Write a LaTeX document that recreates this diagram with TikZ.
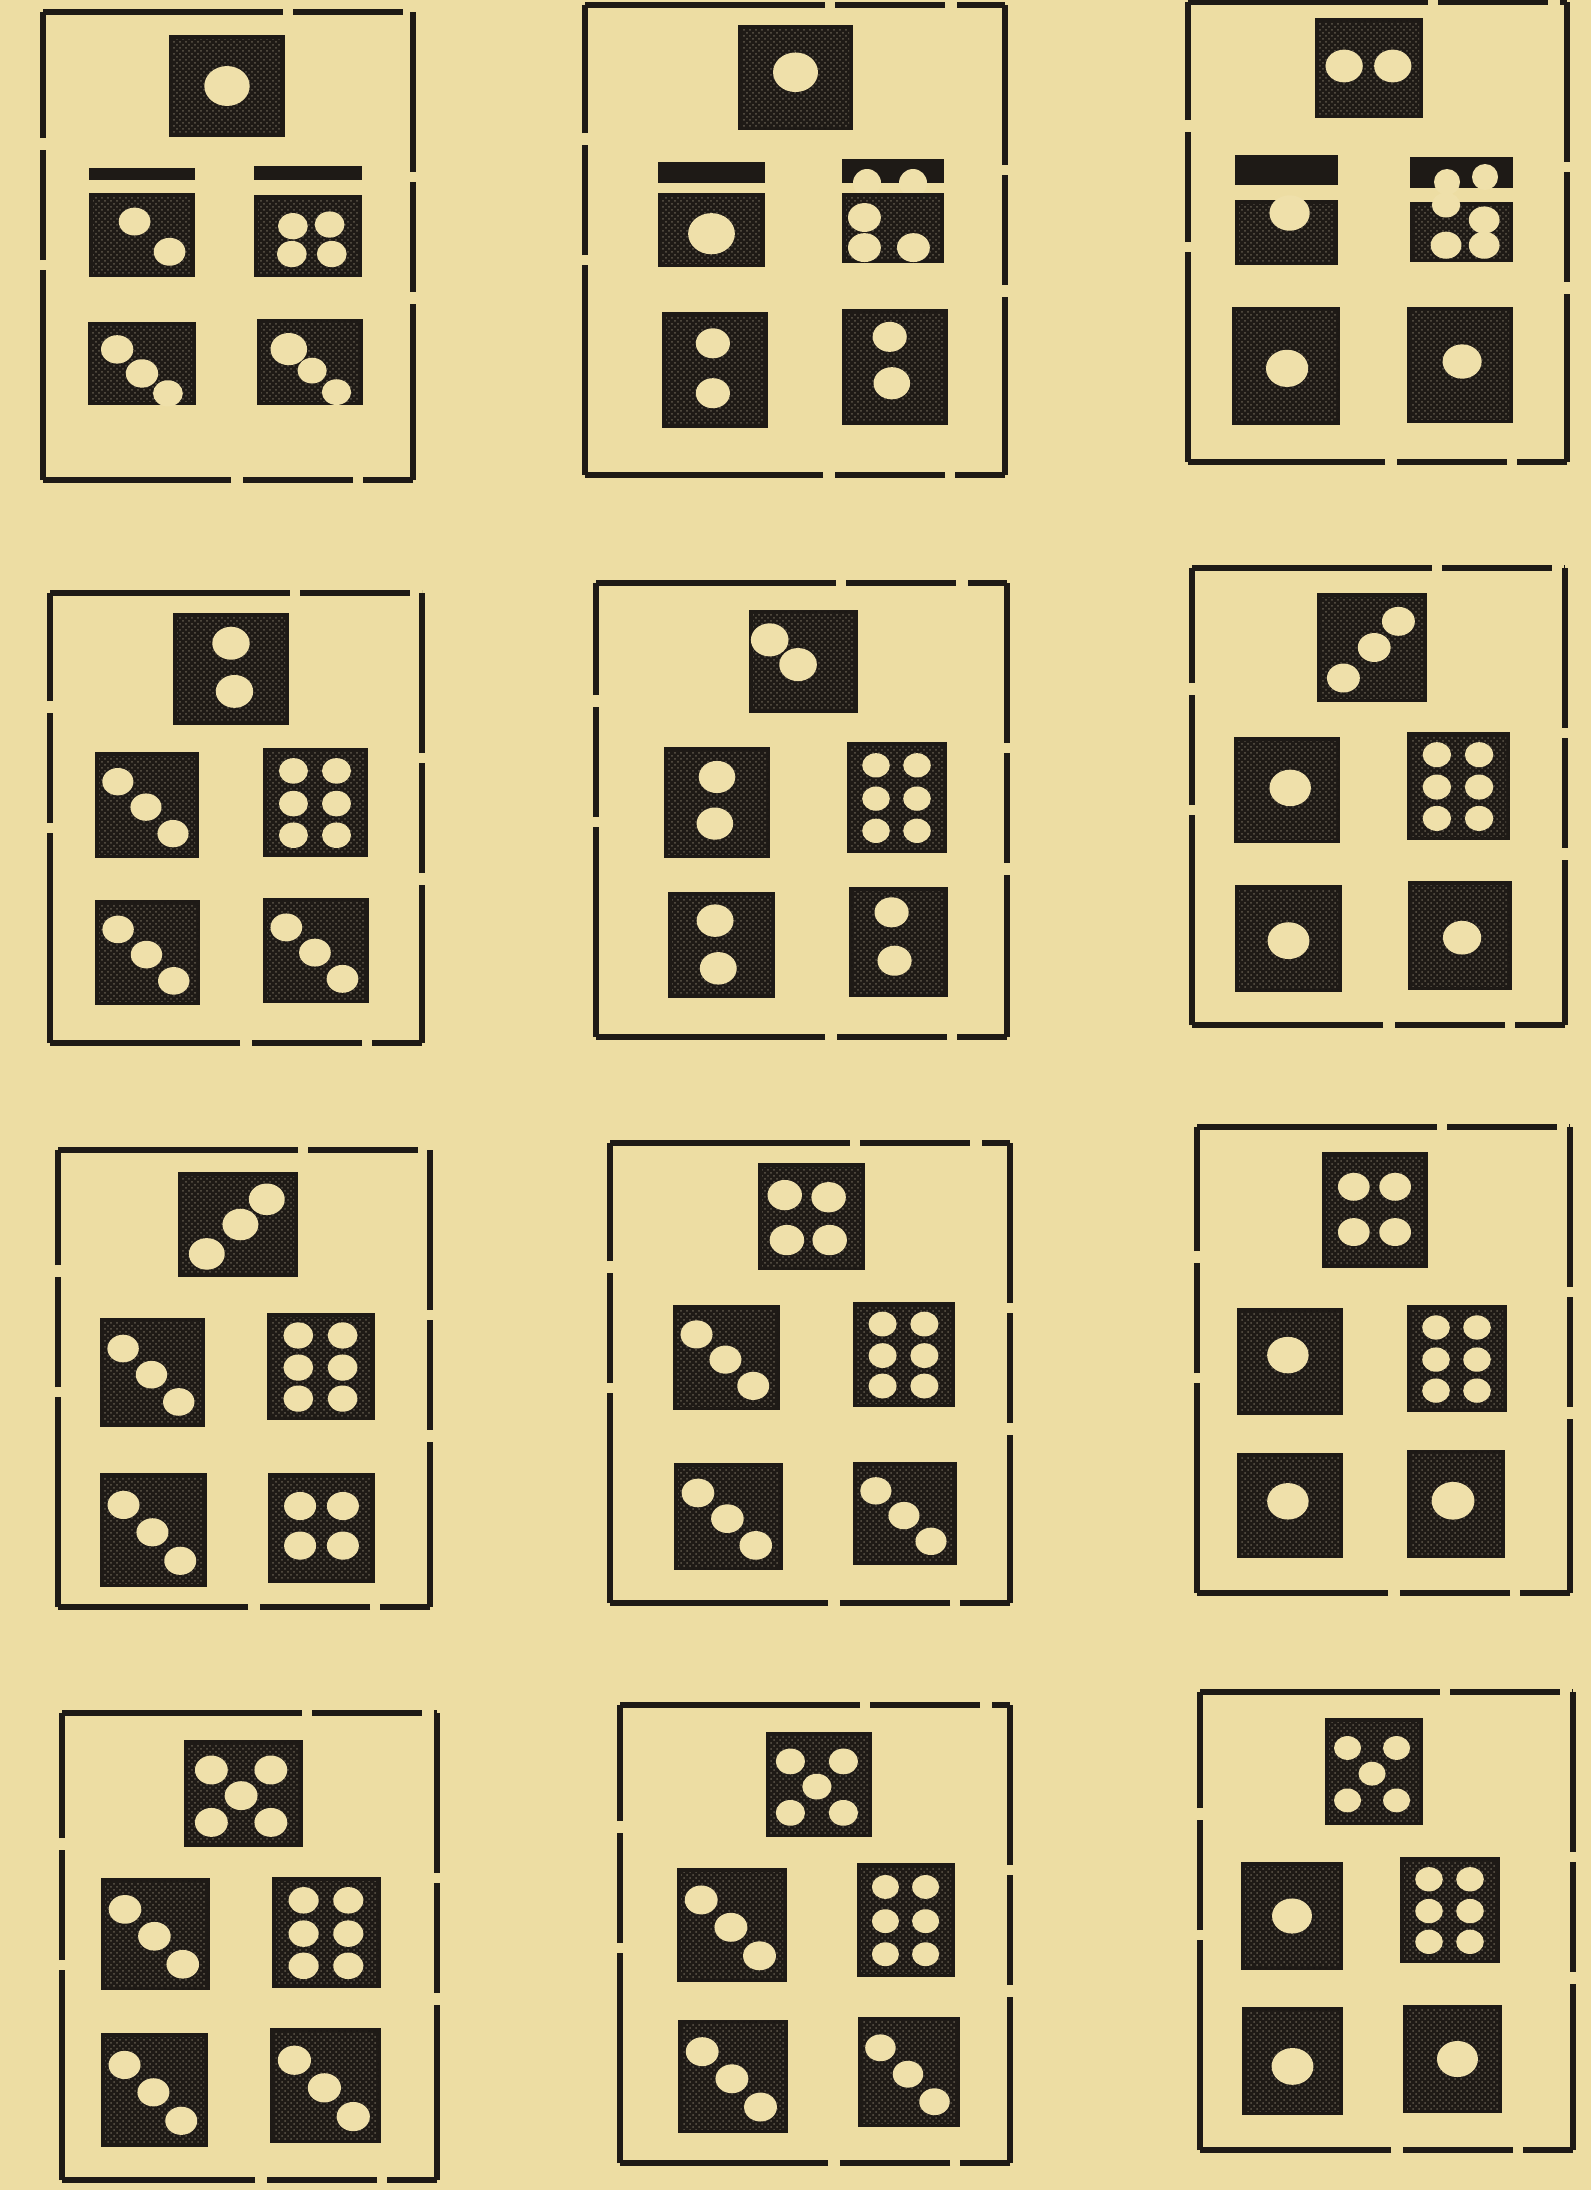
\documentclass[tikz,border=0pt]{standalone}
\usetikzlibrary{patterns}
\definecolor{paper}{RGB}{237,221,163}
\definecolor{pipc}{RGB}{239,224,170}
\definecolor{ink}{RGB}{30,26,22}
\definecolor{inkhi}{RGB}{95,88,75}
\tikzset{
  frameline/.style={line width=2.6pt, draw=ink, line cap=butt, dash pattern=on 120pt off 5pt on 55pt off 6pt},
}
% die: x1 y1 x2 y2 pips (u/v/r list)
\newcommand\diebox[5]{%
  \fill[ink] (#1,#2) rectangle (#3,#4);
  \fill[pattern=crosshatch dots, pattern color=inkhi] (#1+4,#2+4) rectangle (#3-4,#4-4);
  \foreach \u/\v/\r in #5 {
    \fill[pipc] ({#1+\u*(#3-#1)},{#2+\v*(#4-#2)}) ellipse ({1.15*\r*(#3-#1)*0.5pt} and {1.15*\r*0.88*(#3-#1)*0.5pt});
  }%
}
\newcommand\diebar[4]{\fill[ink] (#1,#2) rectangle (#3,#4);}
\newcommand\panelframe[4]{%
  \draw[frameline] (#1,#2) -- (#3,#2);
  \draw[frameline,dash phase=40pt] (#3,#2) -- (#3,#4);
  \draw[frameline,dash phase=95pt] (#3,#4) -- (#1,#4);
  \draw[frameline,dash phase=15pt] (#1,#4) -- (#1,#2);
}
\def\pOne{0.5/0.5/0.17}
\def\pTwoV{0.48/0.27/0.14,0.48/0.7/0.14}
\def\pTwoH{0.27/0.48/0.15,0.72/0.48/0.15}
\def\pThreeD{0.22/0.28/0.13,0.49/0.52/0.13,0.75/0.77/0.13}
\def\pThreeA{0.74/0.26/0.13,0.52/0.5/0.13,0.24/0.78/0.13}
\def\pFour{0.3/0.3/0.13,0.69/0.3/0.13,0.3/0.69/0.13,0.69/0.69/0.13}
\def\pFive{0.23/0.28/0.12,0.73/0.28/0.12,0.48/0.52/0.12,0.23/0.77/0.12,0.73/0.77/0.12}
\def\pSix{0.29/0.21/0.12,0.7/0.21/0.12,0.29/0.51/0.12,0.7/0.51/0.12,0.29/0.8/0.12,0.7/0.8/0.12}
\begin{document}
\begin{tikzpicture}[x=0.5pt,y=-0.5pt]
\fill[paper] (0,0) rectangle (1591,2190);
\useasboundingbox (0,0) rectangle (1591,2190);

% ---------- Row 1 ----------
\panelframe{43}{12}{413}{480}
\diebox{169}{35}{285}{137}{\pOne}
\diebar{89}{168}{195}{180}
\diebox{89}{193}{195}{277}{{0.43/0.34/0.13,0.76/0.70/0.13}}
\diebar{254}{166}{362}{180}
\diebox{254}{195}{362}{277}{{0.36/0.38/0.12,0.7/0.36/0.12,0.35/0.72/0.12,0.72/0.72/0.12}}
\diebox{88}{322}{196}{405}{{0.27/0.33/0.13,0.5/0.62/0.13,0.74/0.86/0.12}}
\diebox{257}{319}{363}{405}{{0.3/0.35/0.15,0.52/0.6/0.12,0.75/0.85/0.12}}

\panelframe{585}{5}{1005}{475}
\diebox{738}{25}{853}{130}{{0.5/0.45/0.17}}
\diebar{658}{162}{765}{183}
\diebox{658}{193}{765}{267}{{0.5/0.55/0.19}}
\diebar{842}{159}{944}{183}
\fill[pipc] (867,183) circle (7pt);
\fill[pipc] (913,183) circle (7pt);
\diebox{842}{193}{944}{263}{{0.22/0.35/0.14,0.22/0.78/0.14,0.7/0.78/0.14}}
\diebox{662}{312}{768}{428}{\pTwoV}
\diebox{842}{309}{948}{425}{{0.45/0.24/0.14,0.47/0.64/0.15}}

\panelframe{1188}{2}{1567}{462}
\diebox{1315}{18}{1423}{118}{\pTwoH}
\diebar{1235}{155}{1338}{185}
\diebox{1235}{200}{1338}{265}{{0.53/0.2/0.17}}
\diebar{1410}{157}{1513}{188}
\fill[pipc] (1447,182) circle (6.5pt);
\fill[pipc] (1485,177) circle (6.5pt);
\diebox{1410}{202}{1513}{262}{{0.35/0.05/0.12,0.72/0.3/0.13,0.35/0.72/0.13,0.72/0.72/0.13}}
\diebox{1232}{307}{1340}{425}{{0.51/0.52/0.17}}
\diebox{1407}{307}{1513}{423}{{0.52/0.47/0.16}}

% ---------- Row 2 ----------
\panelframe{50}{593}{422}{1043}
\diebox{173}{613}{289}{725}{{0.5/0.27/0.14,0.53/0.7/0.14}}
\diebox{95}{752}{199}{858}{\pThreeD}
\diebox{263}{748}{368}{857}{\pSix}
\diebox{95}{900}{200}{1005}{\pThreeD}
\diebox{263}{898}{369}{1003}{\pThreeD}

\panelframe{596}{583}{1007}{1037}
\diebox{749}{610}{858}{713}{{0.19/0.29/0.15,0.45/0.53/0.15}}
\diebox{664}{747}{770}{858}{{0.5/0.27/0.15,0.48/0.69/0.15}}
\diebox{847}{742}{947}{853}{\pSix}
\diebox{668}{892}{775}{998}{{0.44/0.27/0.15,0.47/0.72/0.15}}
\diebox{849}{887}{948}{997}{{0.43/0.23/0.15,0.46/0.67/0.15}}

\panelframe{1192}{568}{1565}{1025}
\diebox{1317}{593}{1427}{702}{\pThreeA}
\diebox{1234}{737}{1340}{843}{{0.53/0.48/0.17}}
\diebox{1407}{732}{1510}{840}{\pSix}
\diebox{1235}{885}{1342}{992}{{0.5/0.52/0.17}}
\diebox{1408}{881}{1512}{990}{{0.52/0.52/0.16}}

% ---------- Row 3 ----------
\panelframe{58}{1150}{430}{1607}
\diebox{178}{1172}{298}{1277}{\pThreeA}
\diebox{100}{1318}{205}{1427}{\pThreeD}
\diebox{267}{1313}{375}{1420}{\pSix}
\diebox{100}{1473}{207}{1587}{\pThreeD}
\diebox{268}{1473}{375}{1583}{{0.3/0.3/0.13,0.7/0.3/0.13,0.3/0.66/0.13,0.7/0.66/0.13}}

\panelframe{610}{1143}{1010}{1603}
\diebox{758}{1163}{865}{1270}{{0.25/0.3/0.14,0.66/0.32/0.14,0.27/0.72/0.14,0.67/0.72/0.14}}
\diebox{673}{1305}{780}{1410}{\pThreeD}
\diebox{853}{1302}{955}{1407}{\pSix}
\diebox{674}{1463}{783}{1570}{\pThreeD}
\diebox{853}{1462}{957}{1565}{\pThreeD}

\panelframe{1197}{1127}{1570}{1593}
\diebox{1322}{1152}{1428}{1268}{\pFour}
\diebox{1237}{1308}{1343}{1415}{{0.48/0.44/0.17}}
\diebox{1407}{1305}{1507}{1412}{\pSix}
\diebox{1237}{1453}{1343}{1558}{{0.48/0.46/0.17}}
\diebox{1407}{1450}{1505}{1558}{{0.47/0.47/0.19}}

% ---------- Row 4 ----------
\panelframe{62}{1713}{437}{2180}
\diebox{184}{1740}{303}{1847}{\pFive}
\diebox{101}{1878}{210}{1990}{\pThreeD}
\diebox{272}{1877}{381}{1988}{\pSix}
\diebox{101}{2033}{208}{2147}{\pThreeD}
\diebox{270}{2028}{381}{2143}{\pThreeD}

\panelframe{620}{1705}{1010}{2163}
\diebox{766}{1732}{872}{1837}{\pFive}
\diebox{677}{1868}{787}{1982}{\pThreeD}
\diebox{857}{1863}{955}{1977}{\pSix}
\diebox{678}{2020}{788}{2133}{\pThreeD}
\diebox{858}{2017}{960}{2127}{\pThreeD}

\panelframe{1200}{1692}{1573}{2150}
\diebox{1325}{1718}{1423}{1825}{\pFive}
\diebox{1241}{1862}{1343}{1970}{{0.5/0.5/0.17}}
\diebox{1400}{1857}{1500}{1963}{\pSix}
\diebox{1242}{2007}{1343}{2115}{{0.5/0.55/0.18}}
\diebox{1403}{2005}{1502}{2113}{{0.55/0.5/0.18}}
\end{tikzpicture}
\end{document}
